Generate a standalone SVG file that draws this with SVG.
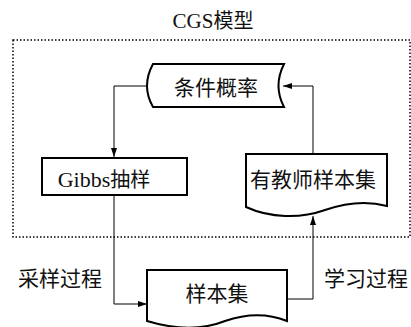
<svg xmlns="http://www.w3.org/2000/svg" width="411" height="327" viewBox="0 0 411 327">
<style>
.t{font-family:"Liberation Serif","Noto Sans CJK SC",serif;font-size:21px;fill:#111;text-anchor:middle}
.c{font-family:"Noto Sans CJK SC",sans-serif;font-size:21px;fill:#111;text-anchor:middle}
.cj{font-family:"Noto Sans CJK SC",sans-serif;font-size:20px}
.shape{fill:#fff;stroke:#000;stroke-width:2}
.conn{fill:none;stroke:#000;stroke-width:1}
</style>
<defs>
<marker id="arr" markerUnits="userSpaceOnUse" markerWidth="9" markerHeight="6" refX="9" refY="3" orient="auto">
<path d="M0,0 L9,3 L0,6 Z" fill="#000"/>
</marker>
</defs>
<text class="t" x="213" y="28">CGS<tspan class="cj">模型</tspan></text>
<rect x="13" y="40" width="397" height="197" fill="none" stroke="#000" stroke-width="1.5" stroke-dasharray="1.5 2"/>
<g id="connectors">
<path class="conn" d="M147,86 H114 V157" marker-end="url(#arr)"/>
<path class="conn" d="M114,196 V304 H147" marker-end="url(#arr)"/>
<path class="conn" d="M287,299 H313 V216" marker-end="url(#arr)"/>
<path class="conn" d="M313,154 V86 H283" marker-end="url(#arr)"/>
</g>
<g id="cond-prob">
<path class="shape" d="M153,64 L284,64 Q273,86 284,107 L153,107 Q141,86 153,64 Z"/>
<text class="c" x="216" y="95">条件概率</text>
</g>
<g id="gibbs">
<rect class="shape" x="42" y="158" width="145" height="37"/>
<text class="t" x="104" y="187" style="font-size:22px">Gibbs<tspan class="cj">抽样</tspan></text>
</g>
<g id="teacher-set">
<path class="shape" d="M246,154 H387 V206 C365,200 345,203 325,210 C300,219 270,218 246,207 Z"/>
<text class="c" x="313" y="187">有教师样本集</text>
</g>
<g id="sample-set">
<path class="shape" d="M147,270 H287 V321 C265,312 245,314 225,321 C205,329 180,331 147,321 Z"/>
<text class="c" x="217" y="301">样本集</text>
</g>
<g id="labels">
<text class="c" x="60" y="286">采样过程</text>
<text class="c" x="366" y="286">学习过程</text>
</g>
</svg>
